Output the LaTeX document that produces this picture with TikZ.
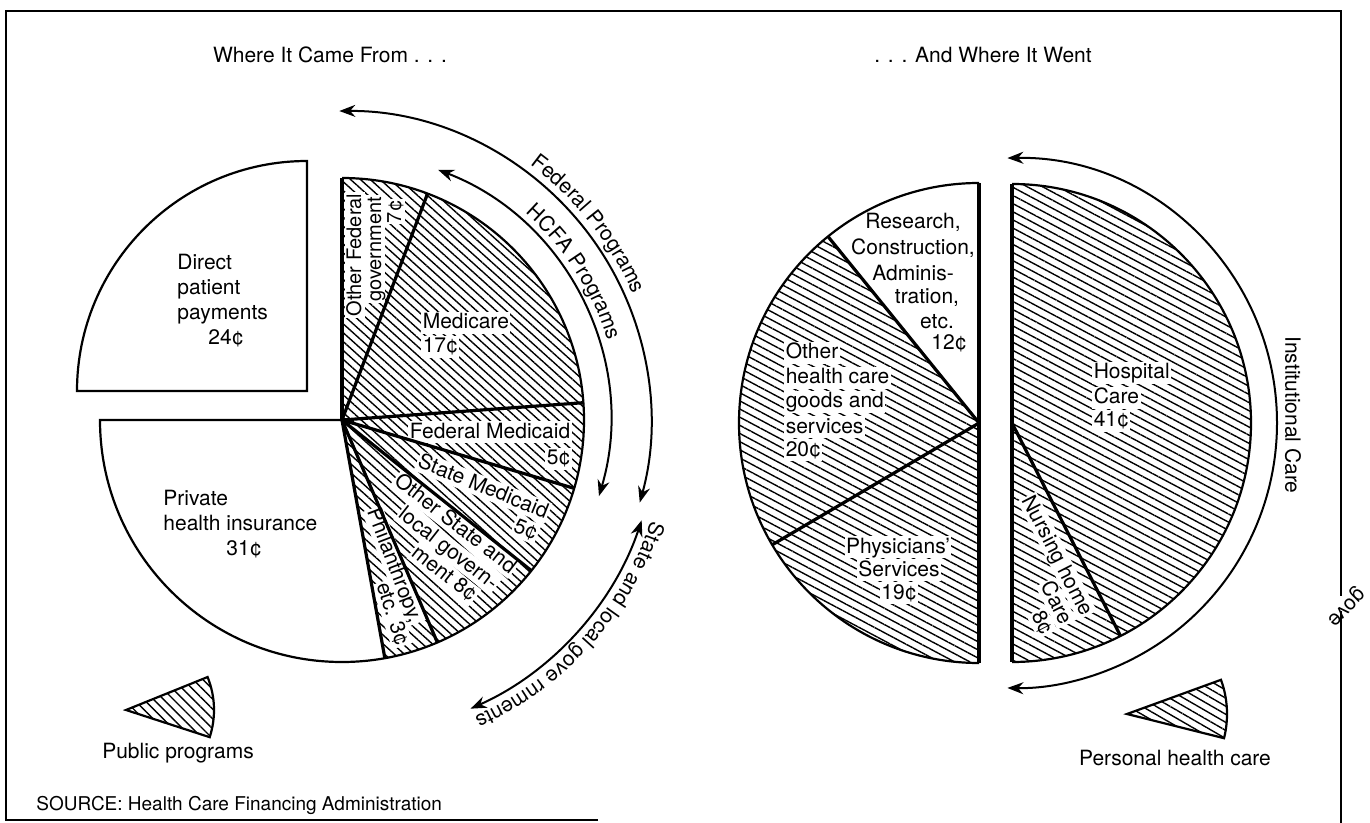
\documentclass[tikz,border=0pt]{standalone}
\usepackage{fontspec}
\setmainfont{TeX Gyre Heros}
\usetikzlibrary{patterns.meta,arrows.meta,calc,decorations.text}
\newcommand\chartfont{\fontsize{10.5}{12.5}\selectfont}
\begin{document}
\begin{tikzpicture}[x=0.5pt,y=0.5pt,
  lbl/.style={font=\chartfont,inner sep=1pt},
  tag/.style={font=\chartfont,fill=white,inner sep=0.7pt,text height=7.6pt,text depth=1.6pt},
  small/.style={font=\fontsize{10}{10}\selectfont,fill=white,inner sep=0.7pt,text height=7.3pt,text depth=1.2pt},
  hatchL/.style={pattern={Lines[angle=-42,distance=3.3pt,line width=0.7pt]}},
  hatchR/.style={pattern={Lines[angle=-28,distance=3.6pt,line width=0.7pt]}},
  hatchP/.style={pattern={Lines[angle=-45,distance=3.5pt,line width=0.7pt]}},
  hatchQ/.style={pattern={Lines[angle=-30,distance=3.5pt,line width=0.7pt]}},
  rim/.style={line width=1.1pt},
  sepline/.style={line width=1.6pt},
  frameline/.style={line width=1.3pt},
  >={Stealth[length=8pt,width=6pt]},
  twoway/.style={line width=1pt,<->},
  arctext/.style={decorate,decoration={text along path,text align=center,text={|\chartfont|#1}}}
]
\useasboundingbox (0,0) rectangle (1370,-823);
% frame
\draw[frameline] (598,-820) -- (6,-820) -- (6,-11) -- (1341,-11) -- (1341,-596);
\draw[frameline] (1341,-611) -- (1341,-823);

% titles
\node[lbl] (t1) at (330,-55) {Where It Came From . . .};
\node[lbl] (t2) at (983,-55) {. . . And Where It Went};

% ---------------- left pie ----------------
\coordinate (C) at (342,-420);
\coordinate (D) at (307,-391);
\fill[hatchL] (C) -- ($(C)+(90:242)$) arc[start angle=90,end angle=-79.8,radius=242] -- cycle;

\node[small,rotate=90,anchor=east] (of1) at (355,-192) {Other Federal};
\node[small,rotate=90,anchor=east] (of2) at (375,-195) {government};
\node[small,rotate=90,anchor=east] (of3) at (395,-199) {7¢};
\node[tag,anchor=west] (mc1) at (421,-323) {Medicare};
\node[tag,anchor=west] (mc2) at (421,-347) {17¢};
\node[tag,anchor=east] (fm1) at (572,-432) {Federal Medicaid};
\node[tag,anchor=east] (fm2) at (572,-459) {5¢};
\node[tag,rotate=-22] (sm1) at (483,-487) {State Medicaid};
\node[tag,rotate=-22,anchor=east] (sm2) at (538,-535) {5¢};
\node[tag,rotate=-69] (ph1) at (394,-566) {Philanthropy,};
\node[tag,rotate=-72] (ph2) at (392,-614) {etc. 3¢};
\node[tag,rotate=-38] (os1) at (455,-524) {Other State and};
\node[tag,rotate=-38] (os2) at (448,-549) {local govern-};
\node[tag,rotate=-38] (os3) at (444,-574) {ment 8¢};

\draw[rim] ($(C)+(90:242)$) arc[start angle=90,end angle=-180,radius=242] -- (C);
\foreach \a in {90,69.3,4.1,-16.4,-38.5,-66.8,-79.8}
  \draw[sepline] (C) -- ($(C)+(\a:242)$);
\draw[rim] (D) -- ($(D)+(90:230)$) arc[start angle=90,end angle=180,radius=230] -- cycle;

\node[lbl,align=left,anchor=west] (dp) at (175,-301) {Direct\\patient\\payments\\\hspace*{15.5pt}24¢};
\node[lbl,align=left,anchor=west] (pi) at (161,-524) {Private\\health insurance\\\hspace*{31.5pt}31¢};

% arrows round the left pie
\draw[twoway] ($(C)+(90.5:309)$) arc[start angle=90.5,end angle=-15.5,radius=309];
\draw[twoway] ($(C)+(69:268)$) arc[start angle=69,end angle=-16.5,radius=268];
\draw[twoway] ($(C)+(-18.5:316)$) arc[start angle=-18.5,end angle=-66,radius=316];
\path[arctext={Federal Programs}] ($(C)+(58:317)$) arc[start angle=58,end angle=19,radius=317];
\path[arctext={HCFA Programs}] ($(C)+(51:277)$) arc[start angle=51,end angle=14,radius=277];
\path[arctext={State and local gove rnments}] ($(C)+(-15:325)$) arc[start angle=-15,end angle=-69,radius=325];

% legend left
\coordinate (P) at (126,-710);
\draw[rim,hatchP] (P) -- ($(P)+(22:88)$) arc[start angle=22,end angle=-18,radius=88] -- cycle;
\node[lbl] (pp) at (178,-753) {Public programs};
\node[font=\fontsize{9.5}{11}\selectfont,inner sep=1pt,anchor=west] (src) at (34,-805) {SOURCE: Health Care Financing Administration};

% ---------------- right pie ----------------
\coordinate (RL) at (979,-423);
\coordinate (RR) at (1012,-423);
\fill[hatchR] (RL) -- ($(RL)+(129:240)$) arc[start angle=129,end angle=270,radius=240] -- cycle;
\fill[hatchR] ($(RR)+(90:239)$) arc[start angle=90,end angle=-90,radius=239] -- cycle;

\node[lbl] (rc1) at (913,-222) {Research,};
\node[lbl] (rc2) at (913,-248) {Construction,};
\node[lbl] (rc3) at (913,-273) {Adminis-};
\node[lbl] (rc4) at (927,-298) {tration,};
\node[lbl] (rc5) at (937,-322) {etc.};
\node[lbl] (rc6) at (949,-343) {12¢};

\node[tag,anchor=west] (oh1) at (784,-353) {Other};
\node[tag,anchor=west] (oh2) at (784,-378) {health care};
\node[tag,anchor=west] (oh3) at (784,-402) {goods and};
\node[tag,anchor=west] (oh4) at (784,-427) {services};
\node[tag,anchor=west] (oh5) at (784,-450) {20¢};

\node[tag] (ps1) at (898,-547) {Physicians'};
\node[tag] (ps2) at (899,-570) {Services};
\node[tag] (ps3) at (899,-593) {19¢};

\node[tag,anchor=west] (hc1) at (1092,-373) {Hospital};
\node[tag,anchor=west] (hc2) at (1092,-398) {Care};
\node[tag,anchor=west] (hc3) at (1092,-421) {41¢};

\node[tag,rotate=-63] (nh1) at (1057,-556) {Nursing home};
\node[tag,rotate=-63,anchor=east] (nh2) at (1067,-625) {Care};
\node[tag,rotate=-63,anchor=east] (nh3) at (1048,-635) {8¢};

\draw[rim] ($(RL)+(90:240)$) arc[start angle=90,end angle=270,radius=240];
\draw[sepline] ($(RL)+(90:240)$) -- ($(RL)+(270:240)$);
\draw[sepline] (RL) -- ($(RL)+(129:240)$);
\draw[sepline] (RL) -- ($(RL)+(210.5:240)$);
\draw[rim] ($(RR)+(90:239)$) arc[start angle=90,end angle=-90,radius=239];
\draw[sepline] ($(RR)+(90:239)$) -- ($(RR)+(-90:239)$);
\draw[sepline] (RR) -- ($(RR)+(-63:239)$);

\draw[twoway] ($(RR)+(91:265)$) arc[start angle=91,end angle=-91,radius=265];
\node[lbl,rotate=-90] (ic) at (1293,-415) {Institutional Care};

% legend right
\coordinate (Q) at (1127,-714);
\draw[rim,hatchQ] (Q) -- ($(Q)+(20:100)$) arc[start angle=20,end angle=-14,radius=100] -- cycle;
\node[lbl] (phc) at (1175,-758) {Personal health care};

\node[lbl,rotate=225,inner sep=0pt] (gv) at (1345,-606) {gove};
\end{tikzpicture}
\end{document}
